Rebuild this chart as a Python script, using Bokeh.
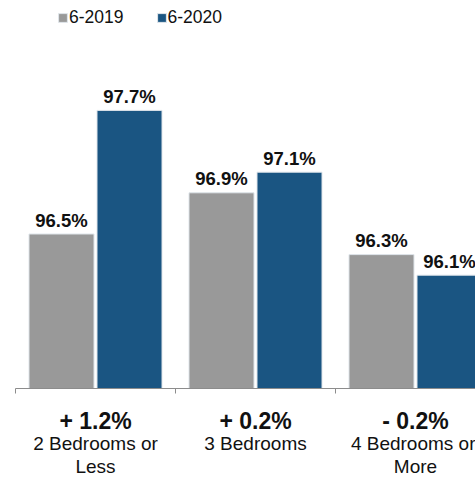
import numpy as np
from bokeh.plotting import figure
from bokeh.models import (Range1d, LinearAxis, FixedTicker, Legend, LegendItem,
                          ColumnDataSource)
from bokeh.core.properties import value
from bokeh.embed import file_html
from bokeh.resources import INLINE

# ---------------- data ----------------
cat_line1 = ["2 Bedrooms or", "3 Bedrooms", "4 Bedrooms or"]
cat_line2 = ["Less", "", "More"]
series_names = ["6-2019", "6-2020"]
occ_2019 = [96.5, 96.9, 96.3]
occ_2020 = [97.7, 97.1, 96.1]
y_base = 95.0

FONT = "Liberation Sans"
GRAY = "#999999"
BLUE = "#1a5582"
EDGE = "#dfe5ea"

x = np.arange(len(occ_2019))
off = 0.2125
bw = 0.40625

delta = [b - a for a, b in zip(occ_2019, occ_2020)]
delta_lbl = [("+ " if d >= 0 else "- ") + f"{abs(d):.1f}%" for d in delta]

src19 = ColumnDataSource(dict(x=x - off, top=occ_2019,
                              lbl=[f"{v:.1f}%" for v in occ_2019]))
src20 = ColumnDataSource(dict(x=x + off, top=occ_2020,
                              lbl=[f"{v:.1f}%" for v in occ_2020]))

FW, FH = 460, 380
p = figure(frame_width=FW, frame_height=FH,
           x_range=Range1d(-0.5, -0.5 + FW / 160.0),
           y_range=Range1d(y_base, y_base + FH / 103.0),
           x_axis_type=None, y_axis_type=None,
           output_backend="svg", toolbar_location=None,
           min_border_left=15, min_border_right=0,
           min_border_top=8, min_border_bottom=0)
p.outline_line_color = None
p.xgrid.visible = False
p.ygrid.visible = False
p.background_fill_color = "white"
p.border_fill_color = "white"

r19 = p.vbar(x="x", top="top", bottom=y_base, width=bw, source=src19,
             fill_color=GRAY, line_color=EDGE, line_width=1)
r20 = p.vbar(x="x", top="top", bottom=y_base, width=bw, source=src20,
             fill_color=BLUE, line_color=EDGE, line_width=1)

for s in (src19, src20):
    p.text(x="x", y="top", text="lbl", source=s, text_align="center",
           text_baseline="alphabetic", y_offset=-14,
           text_font=value(FONT), text_font_style="bold",
           text_font_size="18.5px", text_color="#111111")

# axes below
ax1 = LinearAxis(ticker=FixedTicker(ticks=[0, 1, 2], minor_ticks=[-0.5, 0.5, 1.5]))
ax1.major_label_overrides = {i: t for i, t in enumerate(delta_lbl)}
ax1.major_tick_line_color = None
ax1.major_tick_out = 0
ax1.major_tick_in = 0
ax1.minor_tick_line_color = "#8c8c8c"
ax1.minor_tick_out = 5
ax1.minor_tick_in = 0
ax1.axis_line_color = "#8c8c8c"
ax1.major_label_standoff = 14
ax1.major_label_text_font = FONT
ax1.major_label_text_font_style = "bold"
ax1.major_label_text_font_size = "23px"
ax1.major_label_text_color = "#111111"
p.add_layout(ax1, "below")

for lines, so in ((cat_line1, -4), (cat_line2, -1)):
    ax = LinearAxis(ticker=FixedTicker(ticks=[0, 1, 2]))
    ax.major_label_overrides = {i: t for i, t in enumerate(lines)}
    ax.axis_line_color = None
    ax.major_tick_line_color = None
    ax.minor_tick_line_color = None
    ax.major_tick_out = 0
    ax.major_tick_in = 0
    ax.major_label_standoff = so
    ax.major_label_text_font = FONT
    ax.major_label_text_font_size = "19px"
    ax.major_label_text_color = "#111111"
    p.add_layout(ax, "below")

legend = Legend(items=[LegendItem(label=series_names[0], renderers=[r19]),
                       LegendItem(label=series_names[1], renderers=[r20])],
                orientation="horizontal", location=(42, FH - 20))
legend.background_fill_alpha = 0
legend.border_line_color = None
legend.padding = 0
legend.margin = 0
legend.glyph_width = 11
legend.glyph_height = 11
legend.label_standoff = 1
legend.spacing = 32
legend.label_text_font = FONT
legend.label_text_font_size = "17.5px"
legend.label_text_color = "#111111"
p.add_layout(legend, "center")

open("out.html", "w").write(file_html(p, INLINE))
